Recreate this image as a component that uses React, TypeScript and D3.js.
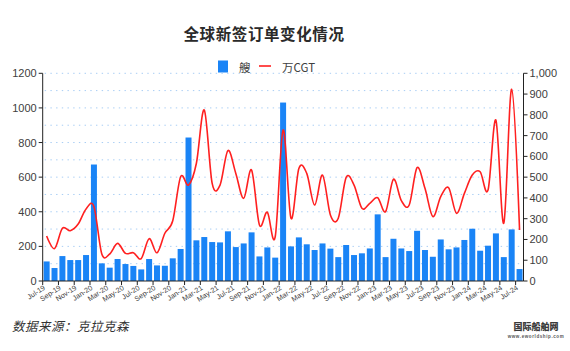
import React from 'react';
import * as d3 from 'd3';

const months = [
  'Jul-19', 'Aug-19', 'Sep-19', 'Oct-19', 'Nov-19', 'Dec-19',
  'Jan-20', 'Feb-20', 'Mar-20', 'Apr-20', 'May-20', 'Jun-20', 'Jul-20', 'Aug-20', 'Sep-20', 'Oct-20', 'Nov-20', 'Dec-20',
  'Jan-21', 'Feb-21', 'Mar-21', 'Apr-21', 'May-21', 'Jun-21', 'Jul-21', 'Aug-21', 'Sep-21', 'Oct-21', 'Nov-21', 'Dec-21',
  'Jan-22', 'Feb-22', 'Mar-22', 'Apr-22', 'May-22', 'Jun-22', 'Jul-22', 'Aug-22', 'Sep-22', 'Oct-22', 'Nov-22', 'Dec-22',
  'Jan-23', 'Feb-23', 'Mar-23', 'Apr-23', 'May-23', 'Jun-23', 'Jul-23', 'Aug-23', 'Sep-23', 'Oct-23', 'Nov-23', 'Dec-23',
  'Jan-24', 'Feb-24', 'Mar-24', 'Apr-24', 'May-24', 'Jun-24', 'Jul-24',
];

// 艘 (left axis)
const ships = [
  113, 75, 144, 121, 121, 150,
  673, 102, 77, 127, 98, 87, 67, 127, 90, 88, 131, 185,
  829, 235, 254, 225, 223, 287, 196, 217, 281, 142, 194, 135,
  1031, 200, 252, 212, 179, 217, 187, 138, 208, 150, 160, 188,
  385, 138, 244, 188, 173, 290, 179, 140, 240, 183, 194, 237,
  302, 175, 204, 275, 138, 298, 69,
];

// 万CGT (right axis)
const cgt = [
  217, 156, 254, 242, 274, 347,
  358, 130, 130, 181, 133, 136, 108, 204, 136, 230, 290, 502,
  462, 567, 823, 470, 462, 628, 518, 398, 534, 270, 331, 213,
  727, 302, 542, 518, 366, 510, 318, 302, 499, 462, 350, 374,
  401, 334, 490, 387, 366, 546, 446, 310, 406, 449, 326, 422,
  510, 526, 438, 775, 278, 923, 246,
];

const leftTicks = [0, 200, 400, 600, 800, 1000, 1200];
const rightTicks = [0, 100, 200, 300, 400, 500, 600, 700, 800, 900, 1000];
const gridValues = [100, 200, 300, 400, 500, 600, 700, 800, 900, 1000, 1100, 1200];

const W = 570;
const H = 351;
const plot = { left: 42.7, right: 523.5, top: 73.3, bottom: 281 };
const BLUE = '#1a84f6';
const RED = '#ff2020';
const AXIS_TEXT = '#404040';
const TICK_FONT = '"Liberation Sans", Arial, sans-serif';
const CJK_FONT = '"Noto Sans CJK SC", sans-serif';

export default function App() {
  const x = d3.scaleBand<string>().domain(months).range([plot.left, plot.right]).padding(0);
  const bw = x.bandwidth();
  const yL = d3.scaleLinear().domain([0, 1200]).range([plot.bottom, plot.top]);
  const yR = d3.scaleLinear().domain([0, 1000]).range([plot.bottom, plot.top]);

  const line = d3.line<number>()
    .x((_, i) => (x(months[i]) || 0) + bw / 2)
    .y(d => yR(d))
    .curve(d3.curveCardinal.tension(0));

  const fmt = d3.format(',');

  return (
    <svg width={W} height={H} style={{ position: 'absolute', left: 0, top: 0, background: '#fff' }}>
      {/* title */}
      <text x={264} y={40} textAnchor="middle" fontFamily={CJK_FONT} fontWeight={700} fontSize={15.5} fill="#2a2a2a" letterSpacing={0.6}>
        全球新签订单变化情况
      </text>

      {/* legend */}
      <rect x={218} y={60.5} width={10} height={12} fill={BLUE} />
      <text x={239} y={71.5} fontFamily={CJK_FONT} fontSize={11.5} fill={AXIS_TEXT}>艘</text>
      <line x1={259} x2={271} y1={66} y2={66} stroke={RED} strokeWidth={1.6} />
      <text x={282} y={71.5} fontFamily={CJK_FONT} fontSize={11.5} fill={AXIS_TEXT}>万CGT</text>

      {/* grid */}
      {gridValues.map(v => (
        <line key={v} x1={plot.left + 2} x2={plot.right} y1={yL(v)} y2={yL(v)}
          stroke="#a8cdf4" strokeWidth={1} strokeDasharray="1.4 4.3" />
      ))}

      {/* bars */}
      {ships.map((v, i) => (
        <rect key={months[i]} x={(x(months[i]) || 0) + bw * 0.12} width={bw * 0.76}
          y={yL(v)} height={plot.bottom - yL(v)} fill={BLUE} />
      ))}

      {/* line */}
      <path d={line(cgt) || ''} fill="none" stroke={RED} strokeWidth={1.6} strokeLinejoin="round" />

      {/* left axis */}
      <line x1={plot.left} x2={plot.left} y1={plot.top} y2={plot.bottom} stroke="#222" strokeWidth={1} />
      {leftTicks.map(v => (
        <g key={v}>
          <line x1={plot.left - 4} x2={plot.left} y1={yL(v)} y2={yL(v)} stroke="#222" />
          <text x={plot.left - 6} y={yL(v) + 4} textAnchor="end" fontFamily={TICK_FONT} fontSize={11} fill={AXIS_TEXT}>{v}</text>
        </g>
      ))}

      {/* right axis */}
      <line x1={plot.right} x2={plot.right} y1={plot.top} y2={plot.bottom} stroke="#222" strokeWidth={1} />
      {rightTicks.map(v => (
        <g key={v}>
          <line x1={plot.right} x2={plot.right + 4} y1={yR(v)} y2={yR(v)} stroke="#222" />
          <text x={plot.right + 6} y={yR(v) + 4} textAnchor="start" fontFamily={TICK_FONT} fontSize={11} fill={AXIS_TEXT}>{fmt(v)}</text>
        </g>
      ))}

      {/* x axis */}
      <line x1={plot.left} x2={plot.right} y1={plot.bottom} y2={plot.bottom} stroke="#222" strokeWidth={1} />
      {months.map((m, i) => i % 2 === 0 ? (
        <g key={m}>
          <line x1={x(m) || 0} x2={x(m) || 0} y1={plot.bottom} y2={plot.bottom + 4} stroke="#222" />
          <text transform={`translate(${(x(m) || 0) + 3},${plot.bottom + 8}) rotate(-33)`} textAnchor="end"
            fontFamily={TICK_FONT} fontSize={7.2} fill={AXIS_TEXT}>{m}</text>
        </g>
      ) : null)}

      {/* source */}
      <text x={12} y={331} fontFamily={CJK_FONT} fontStyle="italic" fontSize={12.5} fill="#333" letterSpacing={0.5}>
        数据来源：克拉克森
      </text>

      {/* watermark */}
      <text x={536} y={330} textAnchor="middle" fontFamily={CJK_FONT} fontWeight={900} fontSize={9} fill="#3a3a3a">国际船舶网</text>
      <text x={536} y={338} textAnchor="middle" fontFamily={TICK_FONT} fontWeight={700} fontSize={4.5} fill="#555" letterSpacing={0.6}>www.eworldship.com</text>
    </svg>
  );
}
